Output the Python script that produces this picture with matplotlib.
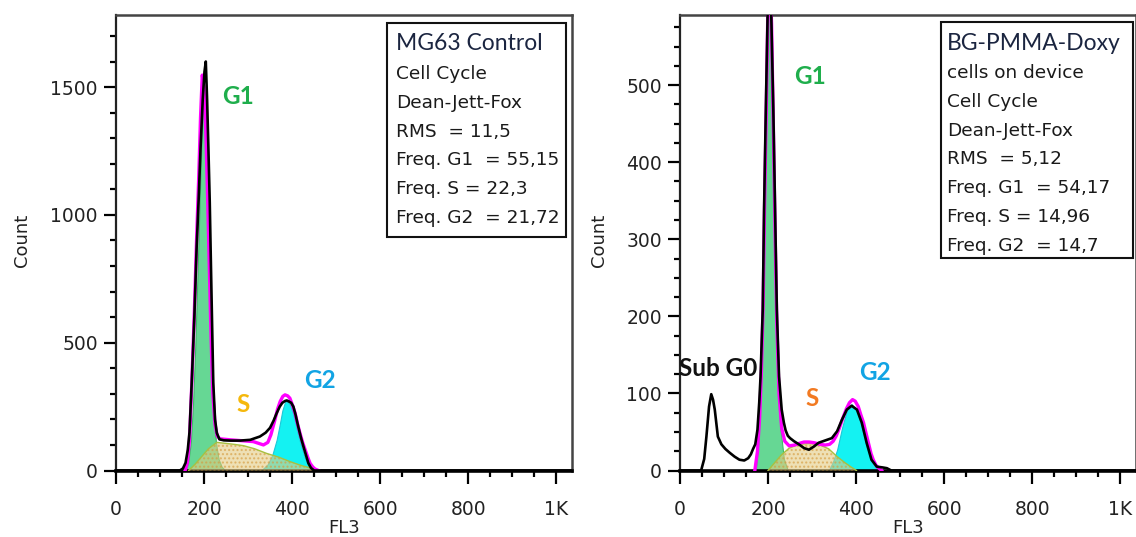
import matplotlib
matplotlib.use("Agg")
import matplotlib.pyplot as plt
from matplotlib.ticker import MultipleLocator, FixedLocator

# ---------------- data ----------------
# Left panel: MG63 Control
ctrl_data_x = [0, 145, 152, 158, 163, 167, 172, 178, 183, 188, 192, 197, 201, 204, 207, 210, 213, 215,
               218, 221, 225, 229, 235, 245, 260, 282, 305, 327, 340, 350, 358, 365, 372, 378, 384, 388,
               393, 398, 403, 408, 414, 420, 426, 432, 437, 443, 450, 1036]
ctrl_data_y = [0, 0, 8, 30, 80, 150, 343, 600, 865, 1070, 1257, 1450, 1560, 1600, 1450, 1257, 1050, 865,
               600, 343, 200, 147, 122, 118, 117, 117, 120, 133, 148, 167, 195, 224, 250, 265, 272, 274,
               270, 265, 250, 218, 172, 130, 93, 58, 29, 10, 0, 0]
ctrl_fit_x = [157, 162, 167, 172, 178, 183, 188, 192, 196, 200, 204, 208, 212, 216, 220, 225, 230, 236,
              260, 290, 312, 335, 345, 352, 361, 367, 373, 379, 384, 390, 395, 401, 407, 412, 418, 424,
              430, 436, 441, 447, 452, 460]
ctrl_fit_y = [0, 30, 120, 330, 620, 900, 1150, 1380, 1547, 1500, 1330, 1080, 800, 520, 300, 180, 135, 124,
              120, 116, 113, 100, 110, 140, 198, 240, 270, 290, 296, 292, 283, 255, 224, 185, 146, 110,
              80, 50, 28, 14, 6, 0]
ctrl_g1_x = [158, 164, 170, 175, 180, 185, 190, 194, 198, 201, 204, 207, 210, 214, 218, 222, 227, 233, 240, 248]
ctrl_g1_y = [0, 30, 110, 260, 480, 760, 1050, 1280, 1440, 1472, 1400, 1230, 1000, 700, 430, 240, 110, 45, 15, 0]
ctrl_s_x = [165, 180, 195, 210, 229, 250, 270, 290, 315, 342, 370, 395, 420, 441, 455]
ctrl_s_y = [0, 25, 55, 85, 110, 106, 102, 97, 85, 67, 52, 35, 20, 10, 0]
ctrl_g2_x = [330, 345, 355, 365, 372, 378, 384, 390, 396, 402, 408, 414, 420, 428, 436, 445, 452]
ctrl_g2_y = [0, 25, 60, 120, 180, 235, 268, 270, 255, 225, 185, 140, 100, 55, 25, 8, 0]

# Right panel: BG-PMMA-Doxy cells on device
doxy_data_x = [0, 48, 55, 60, 66, 71, 75, 79, 86, 94, 103, 113, 124, 135, 146, 155, 161, 166, 171, 176,
               180, 183, 188, 191, 195, 199, 203, 207, 212, 216, 220, 225, 231, 236, 240, 245, 250, 259,
               270, 282, 293, 304, 315, 330, 345, 357, 368, 379, 390, 402, 413, 424, 435, 447, 460, 470,
               480, 1036]
doxy_data_y = [0, 0, 15, 44, 83, 99, 92, 79, 44, 34, 28, 23, 18, 14, 13, 16, 21, 28, 34, 53,
               88, 122, 209, 339, 469, 590, 650, 600, 469, 339, 209, 122, 79, 62, 52, 45, 42, 38,
               34, 29, 27, 31, 36, 39, 42, 51, 66, 79, 84, 79, 62, 36, 14, 5, 4, 3,
               0, 0]
doxy_fit_x = [170, 176, 181, 185, 189, 192, 196, 200, 204, 208, 212, 216, 220, 225, 231, 238, 248, 260,
              270, 282, 293, 305, 318, 330, 340, 348, 355, 362, 370, 378, 385, 392, 398, 405, 411, 417,
              422, 428, 434, 439, 445, 450, 458]
doxy_fit_y = [0, 25, 70, 130, 220, 340, 470, 610, 650, 580, 450, 310, 190, 100, 55, 38, 32, 33,
              35, 37, 37, 36, 34, 33, 34, 38, 45, 55, 68, 80, 88, 92, 90, 83, 72, 62,
              50, 36, 22, 14, 7, 4, 0]
doxy_g1_x = [172, 178, 184, 189, 192, 196, 200, 203, 206, 209, 212, 215, 218, 222, 228, 236, 245]
doxy_g1_y = [0, 36, 110, 200, 320, 460, 600, 640, 590, 480, 380, 280, 190, 110, 55, 15, 0]
doxy_s_x = [200, 215, 230, 248, 270, 293, 315, 338, 357, 375, 390, 401]
doxy_s_y = [0, 10, 20, 29, 34, 35, 34, 28, 18, 10, 4, 0]
doxy_g2_x = [338, 348, 357, 368, 379, 390, 402, 413, 424, 435, 447, 458]
doxy_g2_y = [0, 12, 27, 55, 78, 86, 78, 57, 31, 12, 3, 0]

x_tick_values = [0, 200, 400, 600, 800, 1000]
x_tick_labels = ["0", "200", "400", "600", "800", "1K"]
ctrl_y_ticks = [0, 500, 1000, 1500]
doxy_y_ticks = [0, 100, 200, 300, 400, 500]

ctrl_box_title = "MG63 Control"
ctrl_box_lines = ["Cell Cycle", "Dean-Jett-Fox", "RMS  = 11,5", "Freq. G1  = 55,15",
                  "Freq. S = 22,3", "Freq. G2  = 21,72"]
doxy_box_title = "BG-PMMA-Doxy"
doxy_box_lines = ["cells on device", "Cell Cycle", "Dean-Jett-Fox", "RMS  = 5,12",
                  "Freq. G1  = 54,17", "Freq. S = 14,96", "Freq. G2  = 14,7"]

# ---------------- figure ----------------
W, H = 1136, 537
fig = plt.figure(figsize=(W / 100, H / 100), dpi=100)
plt.rcParams['hatch.linewidth'] = 1.0


def rect(x0, x1, ytop, ybot):
    return [x0 / W, 1 - ybot / H, (x1 - x0) / W, (ybot - ytop) / H]


def fpos(x, y):
    return x / W, 1 - y / H


C_G1 = '#66d794'
C_S = '#e3cc84'
C_G2 = '#14f2f2'


def draw_panel(ax, dx, dy, fx, fy, g1x, g1y, sx, sy, g2x, g2y, ytop, yticks, yminor, ylabel_x):
    ax.fill_between(g1x, g1y, 0, facecolor=C_G1, edgecolor='#3fb86a', linewidth=0.8, zorder=2)
    ax.fill_between(g2x, g2y, 0, facecolor=C_G2, edgecolor='#1cc8d8', linewidth=0.8, zorder=2)
    ax.fill_between(sx, sy, 0, facecolor=C_S, alpha=0.6, edgecolor='#d59a3c', hatch='....',
                    linewidth=0, zorder=3)
    ax.plot(sx, sy, color='#a8c040', lw=1.0, zorder=3)
    ax.plot(fx, fy, color='#ff00ff', lw=2.4, zorder=4, solid_joinstyle='round')
    ax.plot(dx, dy, color='black', lw=1.9, zorder=5, solid_joinstyle='round')

    ax.set_xlim(0, 1036)
    ax.set_ylim(0, ytop)
    ax.xaxis.set_major_locator(FixedLocator(x_tick_values))
    ax.set_xticklabels(x_tick_labels)
    ax.xaxis.set_minor_locator(MultipleLocator(50))
    ax.yaxis.set_major_locator(FixedLocator(yticks))
    ax.yaxis.set_minor_locator(MultipleLocator(yminor))
    ax.tick_params(which='major', direction='out', length=9, width=1.6, labelsize=13.5, color='black')
    ax.tick_params(which='minor', direction='out', length=4, width=1.6, color='black')
    ax.tick_params(axis='x', which='major', pad=12)
    ax.tick_params(axis='y', which='major', pad=4)
    for lab in ax.get_xticklabels() + ax.get_yticklabels():
        lab.set_color('#222222')

    for side in ['top', 'right']:
        ax.spines[side].set_color('#444444')
        ax.spines[side].set_linewidth(1.8)
    ax.spines['left'].set_color('#222222')
    ax.spines['left'].set_linewidth(1.6)
    ax.spines['bottom'].set_color('black')
    ax.spines['bottom'].set_linewidth(2.6)

    ax.set_xlabel('FL3', fontsize=13, color='#222222')
    ax.xaxis.set_label_coords(0.5, -0.107)
    ax.set_ylabel('Count', fontsize=13, color='#222222')
    ax.yaxis.set_label_coords(ylabel_x, 0.505)


ax1 = fig.add_axes(rect(116, 572, 15, 470.5))
draw_panel(ax1, ctrl_data_x, ctrl_data_y, ctrl_fit_x, ctrl_fit_y, ctrl_g1_x, ctrl_g1_y,
           ctrl_s_x, ctrl_s_y, ctrl_g2_x, ctrl_g2_y, 1782, ctrl_y_ticks, 100, -0.186)

ax2 = fig.add_axes(rect(680, 1136, 15, 470.5))
draw_panel(ax2, doxy_data_x, doxy_data_y, doxy_fit_x, doxy_fit_y, doxy_g1_x, doxy_g1_y,
           doxy_s_x, doxy_s_y, doxy_g2_x, doxy_g2_y, 591, doxy_y_ticks, 25, -0.158)

# ---------------- phase labels ----------------
lab_kw = dict(fontfamily='Lato', fontweight='bold', fontsize=17.5, ha='center', va='center')
fig.text(*fpos(238, 96), 'G1', color='#1fae4c', **lab_kw)
fig.text(*fpos(243, 404), 'S', color='#f5b80c', **lab_kw)
fig.text(*fpos(320, 381), 'G2', color='#12a4e4', **lab_kw)
fig.text(*fpos(718, 368), 'Sub G0', color='#111111', **lab_kw)
fig.text(*fpos(810, 77), 'G1', color='#1fae4c', **lab_kw)
fig.text(*fpos(812, 398), 'S', color='#f27a22', **lab_kw)
fig.text(*fpos(875, 372), 'G2', color='#12a4e4', **lab_kw)

# ---------------- info boxes ----------------
def info_box(x0, x1, ytop, ybot, tx, title, title_y, lines, first_y, step):
    box = plt.Rectangle(fpos(x0, ybot), (x1 - x0) / W, (ybot - ytop) / H,
                        transform=fig.transFigure, fill=True, facecolor='white',
                        edgecolor='#111111', linewidth=1.5, zorder=10)
    fig.add_artist(box)
    fig.text(*fpos(tx, title_y), title, fontfamily='Lato', fontsize=16.5, color='#1b2540',
             ha='left', va='center', zorder=11)
    for i, line in enumerate(lines):
        fig.text(*fpos(tx, first_y + i * step), line, fontfamily='DejaVu Sans', fontsize=13.3,
                 color='#1a1a1a', ha='left', va='center', zorder=11)


info_box(387, 566, 23, 237, 396, ctrl_box_title, 44, ctrl_box_lines, 74, 28.8)
info_box(941, 1133, 22, 258, 947, doxy_box_title, 43, doxy_box_lines, 73, 28.8)

fig.savefig('out.png', dpi=100)
